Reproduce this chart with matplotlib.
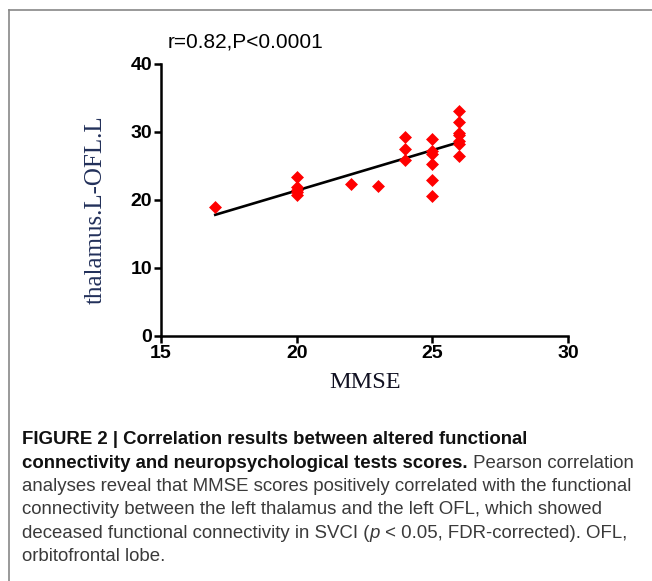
import matplotlib
matplotlib.use("Agg")
import matplotlib.pyplot as plt
from matplotlib.lines import Line2D
import numpy as np

# ---- data ----
mmse = [17, 20, 20, 20, 20, 20, 22, 23, 24, 24, 24,
        25, 25, 25, 25, 25, 25, 26, 26, 26, 26, 26, 26, 26]
fc = [19.0, 23.3, 21.9, 21.5, 21.1, 20.7, 22.4, 22.0, 29.2, 27.5, 25.8,
      28.9, 27.2, 26.8, 25.3, 22.9, 20.6, 33.1, 31.4, 29.9, 29.6, 28.6, 28.2, 26.5]
fit_x = [17, 26]
fit_y = [17.8, 28.5]
x_ticks = [15, 20, 25, 30]
y_ticks = [0, 10, 20, 30, 40]
title_text = "r=0.82,P<0.0001"
x_label = "MMSE"
y_label = "thalamus.L-OFL.L"

caption_lines = [
    [("FIGURE 2 | Correlation results between altered functional", "bold", "normal")],
    [("connectivity and neuropsychological tests scores.", "bold", "normal"),
     (" Pearson correlation", "normal", "normal")],
    [("analyses reveal that MMSE scores positively correlated with the functional", "normal", "normal")],
    [("connectivity between the left thalamus and the left OFL, which showed", "normal", "normal")],
    [("deceased functional connectivity in SVCI (", "normal", "normal"),
     ("p", "normal", "italic"),
     (" < 0.05, FDR-corrected). OFL,", "normal", "normal")],
    [("orbitofrontal lobe.", "normal", "normal")],
]

W, H = 652, 581
fig = plt.figure(figsize=(W / 100, H / 100), dpi=100)
fig.patch.set_facecolor("white")

# frame lines of the figure box
fig.add_artist(Line2D([9 / W, 1.0], [1 - 10 / H, 1 - 10 / H], transform=fig.transFigure,
                      color="#888888", lw=1.2))
fig.add_artist(Line2D([9 / W, 9 / W], [1 - 10 / H, 0.0], transform=fig.transFigure,
                      color="#888888", lw=1.2))

ax_l, ax_r, ax_b, ax_t = 161, 568, 335.7, 64
ax = fig.add_axes([ax_l / W, 1 - ax_b / H, (ax_r - ax_l) / W, (ax_b - ax_t) / H])
ax.scatter(mmse, fc, marker="D", s=6.6 ** 2, color="#ff0000", zorder=3, linewidths=0)
ax.plot(fit_x, fit_y, color="black", lw=1.9, zorder=2)

ax.set_xlim(15, 30)
ax.set_ylim(0, 40)
ax.set_xticks(x_ticks)
ax.set_yticks(y_ticks)
for s in ["top", "right"]:
    ax.spines[s].set_visible(False)
for s in ["left", "bottom"]:
    ax.spines[s].set_linewidth(1.8)
ax.tick_params(direction="out", length=5, width=1.8, labelsize=14, pad=1.5)
for lab in ax.get_xticklabels() + ax.get_yticklabels():
    lab.set_fontweight("bold")
    lab.set_fontfamily("Liberation Sans")

ax.set_xlabel(x_label, fontsize=17.5, fontfamily="Liberation Serif", color="#111122")
ax.set_ylabel(y_label, fontsize=18, fontfamily="Liberation Serif", color="#22305a")
ax.xaxis.set_label_coords((365 - ax_l) / (ax_r - ax_l), (ax_b - 372) / (ax_b - ax_t))
ax.yaxis.set_label_coords((107 - ax_l) / (ax_r - ax_l), (ax_b - 210) / (ax_b - ax_t))
ax.xaxis.label.set_va("top")

fig.text(168 / W, 1 - 42 / H, title_text, fontsize=15, fontfamily="Liberation Sans",
         va="center", ha="left", color="black")

# caption
renderer = fig.canvas.get_renderer()
y0 = 440
dy = 23.3
for i, segs in enumerate(caption_lines):
    x = 22
    y = 1 - (y0 + i * dy) / H
    for txt, wt, st in segs:
        t = fig.text(x / W, y, txt, fontsize=13.45, fontfamily="Liberation Sans",
                     fontweight=wt, fontstyle=st, va="center", ha="left",
                     color="#111111" if wt == "bold" else "#3a3a3a")
        bb = t.get_window_extent(renderer=renderer)
        x = bb.x1

fig.savefig("out.png", dpi=100)
